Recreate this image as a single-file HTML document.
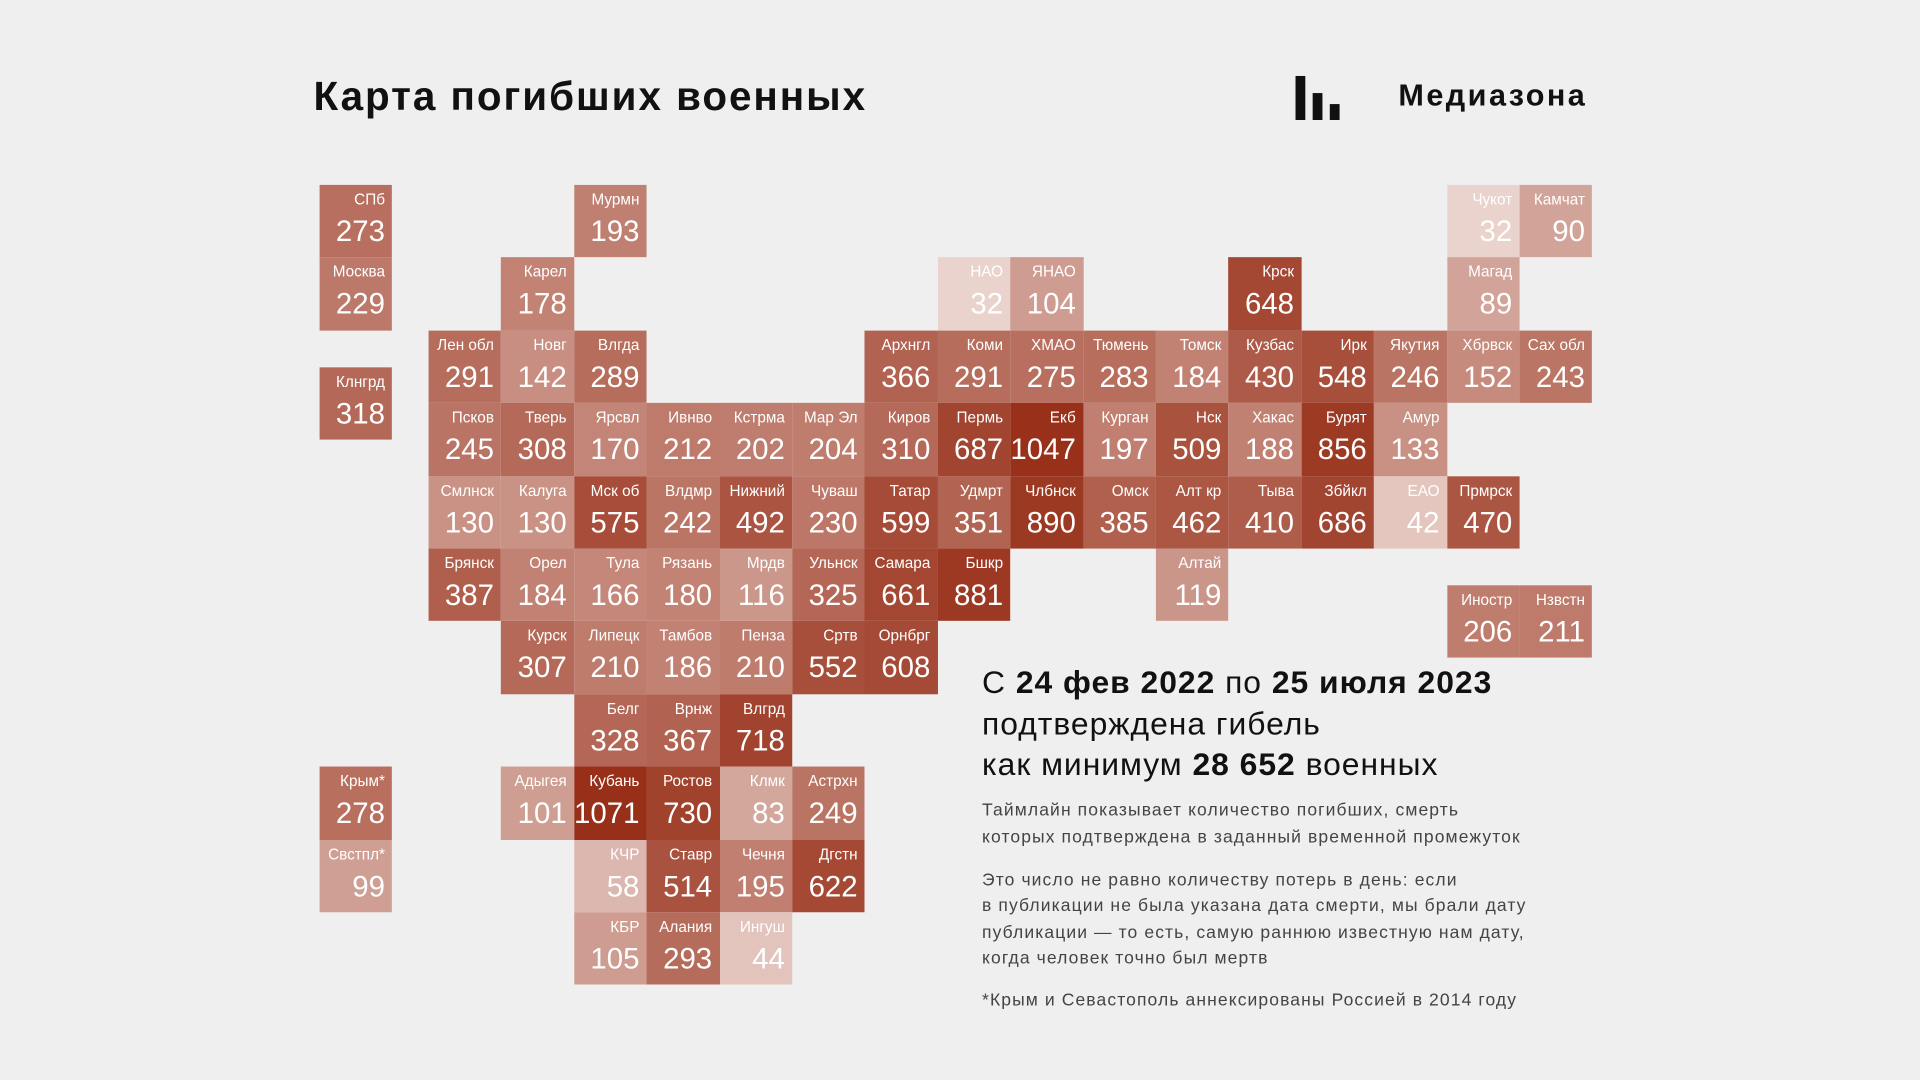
<!DOCTYPE html>
<html><head><meta charset="utf-8"><style>
html,body{margin:0;padding:0;background:#efefef;width:1920px;height:1080px;overflow:hidden}
#root{position:absolute;left:0;top:0;width:1568px;height:882px;transform:scale(1.22449);transform-origin:0 0;font-family:"Liberation Sans","Noto Sans CJK SC",sans-serif;color:#111}
.cell{position:absolute;width:59.4px;height:59.4px;color:#fff;overflow:visible}
.cell .lb{position:absolute;right:6px;top:5px;font-size:12.5px;white-space:nowrap}
.cell .v{position:absolute;right:6px;top:25px;font-size:24px;white-space:nowrap}
.t{position:absolute;white-space:nowrap}
</style></head><body>
<div id="root">
<div class="t" style="left:256px;top:60px;font-size:33px;font-weight:bold;letter-spacing:1.6px">Карта погибших военных</div>
<svg style="position:absolute;left:1058px;top:62px" width="40" height="38"><rect x="0" y="0" width="8" height="36" fill="#111"/><rect x="14" y="14" width="8" height="22" fill="#111"/><rect x="28" y="23" width="8" height="13" fill="#111"/></svg>
<div class="t" style="left:1142px;top:64px;font-size:25px;font-weight:bold;letter-spacing:2px">Медиазона</div>
<div id="grid"></div>
<div class="t" style="left:802px;top:541px;font-size:26px;line-height:33.5px;letter-spacing:0.8px">С <b>24 фев 2022</b> по <b>25 июля 2023</b><br>подтверждена гибель<br>как минимум <b>28 652</b> военных</div>
<div class="t" style="left:802px;top:652px;font-size:14.3px;line-height:21.5px;color:#444;letter-spacing:0.9px">Таймлайн показывает количество погибших, смерть<br>которых подтверждена в заданный временной промежуток</div>
<div class="t" style="left:802px;top:709px;font-size:14.3px;line-height:21.3px;color:#444;letter-spacing:0.9px">Это число не равно количеству потерь в день: если<br>в публикации не была указана дата смерти, мы брали дату<br>публикации — то есть, самую раннюю известную нам дату,<br>когда человек точно был мертв</div>
<div class="t" style="left:802px;top:809px;font-size:14.3px;color:#444;letter-spacing:0.9px">*Крым и Севастополь аннексированы Россией в 2014 году</div>
</div>
<script>
const regions=["СПб","Москва","Клнгрд","Крым*","Свстпл*","Мурмн","Чукот","Камчат","Карел","НАО","ЯНАО","Крск","Магад","Лен обл","Новг","Влгда","Архнгл","Коми","ХМАО","Тюмень","Томск","Кузбас","Ирк","Якутия","Хбрвск","Сах обл","Псков","Тверь","Ярсвл","Ивнво","Кстрма","Мар Эл","Киров","Пермь","Екб","Курган","Нск","Хакас","Бурят","Амур","Смлнск","Калуга","Мск об","Влдмр","Нижний","Чуваш","Татар","Удмрт","Члбнск","Омск","Алт кр","Тыва","Збйкл","ЕАО","Прмрск","Брянск","Орел","Тула","Рязань","Мрдв","Ульнск","Самара","Бшкр","Алтай","Иностр","Нзвстн","Курск","Липецк","Тамбов","Пенза","Сртв","Орнбрг","Белг","Врнж","Влгрд","Адыгея","Кубань","Ростов","Клмк","Астрхн","КЧР","Ставр","Чечня","Дгстн","КБР","Алания","Ингуш"];
const deaths=[273,229,318,278,99,193,32,90,178,32,104,648,89,291,142,289,366,291,275,283,184,430,548,246,152,243,245,308,170,212,202,204,310,687,1047,197,509,188,856,133,130,130,575,242,492,230,599,351,890,385,462,410,686,42,470,387,184,166,180,116,325,661,881,119,206,211,307,210,186,210,552,608,328,367,718,101,1071,730,83,249,58,514,195,622,105,293,44];
const gridCol=[0,0,0,0,0,3,15,16,2,8,9,12,15,1,2,3,7,8,9,10,11,12,13,14,15,16,1,2,3,4,5,6,7,8,9,10,11,12,13,14,1,2,3,4,5,6,7,8,9,10,11,12,13,14,15,1,2,3,4,5,6,7,8,11,15,16,2,3,4,5,6,7,3,4,5,2,3,4,5,6,3,4,5,6,3,4,5];
const gridRow=[0,1,2.5,8,9,0,0,0,1,1,1,1,1,2,2,2,2,2,2,2,2,2,2,2,2,2,3,3,3,3,3,3,3,3,3,3,3,3,3,3,4,4,4,4,4,4,4,4,4,4,4,4,4,4,4,5,5,5,5,5,5,5,5,5,5.5,5.5,6,6,6,6,6,6,7,7,7,8,8,8,8,8,9,9,9,9,10,10,10];
const S=59.4;
function xPos(c){return c===0?261:350+(c-1)*S;}
function yPos(r){return 151+r*S;}
const lo=Math.log(32),hi=Math.log(1071);
function color(v){let t=(Math.log(v)-lo)/(hi-lo);t=Math.max(0,Math.min(1,t));
const a=[234,211,205],b=[152,48,25];return 'rgb('+a.map((x,i)=>Math.round(x+(b[i]-x)*t)).join(',')+')';}
const g=document.getElementById('grid');
regions.forEach((n,i)=>{
const d=document.createElement('div');d.className='cell';


d.style.left=xPos(gridCol[i])+'px';d.style.top=yPos(gridRow[i])+'px';d.style.background=color(deaths[i]);
d.innerHTML='<div class="lb">'+n+'</div><div class="v">'+deaths[i]+'</div>';
g.appendChild(d);});
</script>
</body></html>
